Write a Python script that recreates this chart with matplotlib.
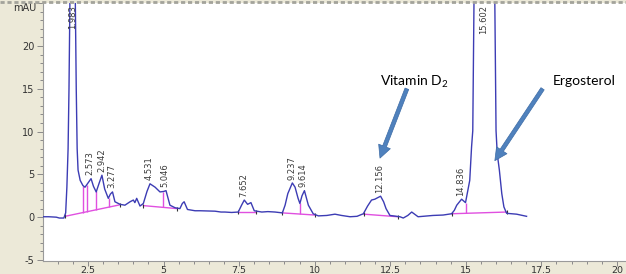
import numpy as np
import matplotlib
matplotlib.use('Agg')
import matplotlib.pyplot as plt
from matplotlib.lines import Line2D
from matplotlib.ticker import MultipleLocator

# chromatogram trace (min, mAU)
rt = [0.90, 1.20, 1.45, 1.55, 1.70, 1.76, 1.80, 1.84, 1.87, 1.90, 1.95, 2.00, 2.04,
      2.08, 2.11, 2.14, 2.17, 2.24, 2.33, 2.40, 2.50, 2.60, 2.68, 2.77, 2.87, 2.96,
      3.05, 3.17, 3.24, 3.31, 3.39, 3.56, 3.72, 3.89, 4.00, 4.05, 4.11, 4.22, 4.33,
      4.45, 4.55, 4.72, 4.88, 5.00, 5.08, 5.21, 5.38, 5.54, 5.62, 5.68, 5.79, 6.04,
      6.21, 6.70, 6.90, 7.03, 7.25, 7.47, 7.58, 7.67, 7.78, 7.89, 8.00, 8.25, 8.45,
      8.69, 8.93, 9.02, 9.11, 9.26, 9.35, 9.45, 9.51, 9.58, 9.66, 9.79, 9.95, 10.12,
      10.40, 10.67, 10.89, 11.17, 11.40, 11.61, 11.75, 11.88, 11.99, 12.07, 12.18,
      12.28, 12.36, 12.49, 12.82, 12.93, 13.08, 13.21, 13.42, 13.91, 14.25, 14.53,
      14.62, 14.70, 14.86, 14.99, 15.13, 15.19, 15.23, 15.27, 15.35, 15.60, 15.88,
      15.96, 16.00, 16.04, 16.11, 16.19, 16.26, 16.35, 16.68, 17.01]
mau = [0.05, 0.05, 0.0, -0.1, -0.1, 0.5, 3.5, 8.0, 15.0, 25.0, 50.0, 70.0, 50.0,
       25.0, 15.0, 8.0, 5.5, 4.3, 3.7, 3.5, 4.0, 4.5, 3.6, 2.95, 4.0, 4.9,
       3.3, 2.2, 2.7, 2.95, 1.8, 1.5, 1.4, 1.8, 2.0, 1.7, 2.2, 1.3, 1.6,
       3.0, 3.9, 3.5, 2.95, 3.0, 3.1, 1.4, 1.1, 1.0, 1.6, 1.8, 0.9, 0.75,
       0.75, 0.7, 0.6, 0.6, 0.55, 0.6, 1.4, 2.0, 1.5, 1.7, 0.75, 0.6, 0.65,
       0.6, 0.5, 1.4, 2.75, 4.0, 3.5, 2.2, 1.6, 2.5, 3.1, 1.4, 0.4, 0.15,
       0.2, 0.35, 0.2, 0.05, 0.1, 0.4, 1.3, 2.0, 2.1, 2.25, 2.45,
       1.8, 1.0, 0.2, 0.05, -0.1, 0.2, 0.6, 0.05, 0.2, 0.25, 0.4,
       0.8, 1.4, 2.1, 1.7, 4.3, 8.2, 10.1, 25.0, 50.0, 110.0, 50.0,
       25.0, 10.1, 7.4, 5.5, 2.75, 1.2, 0.45, 0.35, 0.1]

peak_labels = ['1.983', '2.573', '2.942', '3.277', '4.531', '5.046', '7.652',
               '9.237', '9.614', '12.156', '14.836', '15.602']
peak_height = [70, 4.5, 4.9, 2.95, 3.9, 3.1, 2.0, 4.0, 3.1, 2.45, 2.1, 110]

# integration baselines (start rt, start mAU, end rt, end mAU)
base_t0 = [1.74, 4.33, 7.47, 8.93, 11.63, 14.53]
base_y0 = [0.10, 1.35, 0.65, 0.50, 0.35, 0.40]
base_t1 = [3.56, 5.45, 8.05, 10.00, 12.75, 16.35]
base_y1 = [1.45, 1.00, 0.65, 0.25, 0.05, 0.60]
drop_rt = [2.34, 2.46, 2.78, 3.18, 4.98, 9.51, 14.99]

plt.rcParams['lines.scale_dashes'] = False
plt.rcParams['mathtext.fontset'] = 'custom'

fig = plt.figure(figsize=(6.26, 2.74), dpi=100, facecolor='#ece9d8')
ax = fig.add_axes([43 / 626, 13 / 274, 1 - 43 / 626, 258 / 274])
ax.set_facecolor('white')

pink = '#e050e0'
for t0, y0, t1, y1 in zip(base_t0, base_y0, base_t1, base_y1):
    ax.plot([t0, t1], [y0, y1], color=pink, lw=1.0, zorder=2)
    ax.plot([t0, t1], [y0, y1], ls='none', marker='|', ms=3, mew=0.8, color='#333333', zorder=3)
for t in drop_rt:
    for t0, y0, t1, y1 in zip(base_t0, base_y0, base_t1, base_y1):
        if t0 <= t <= t1:
            yb = np.interp(t, [t0, t1], [y0, y1])
    ax.vlines(t, yb, np.interp(t, rt, mau), color=pink, lw=1.0, zorder=2)

ax.plot(rt, mau, color='#3c3cb4', lw=1.0, zorder=4)

for lab, h in zip(peak_labels, peak_height):
    x = float(lab)
    if h > 25:
        ax.text(x, 24.8, lab, rotation=90, ha='center', va='top', fontsize=6, color='#3a3a3a', zorder=5)
    else:
        ax.text(x, h + 0.4, lab, rotation=90, ha='center', va='bottom', fontsize=6, color='#3a3a3a', zorder=5)

arrow = dict(arrowstyle='simple,head_length=0.9,head_width=0.9,tail_width=0.28',
             mutation_scale=10, fc='#4f81bd', ec='#3d6ca6', lw=0.5, shrinkA=0, shrinkB=0)
ax.annotate('', xy=(12.16, 6.9), xytext=(13.05, 15.0), arrowprops=arrow, zorder=6)
ax.annotate('', xy=(15.96, 6.6), xytext=(17.54, 15.0), arrowprops=arrow, zorder=6)
ax.text(12.16, 15.35, 'Vitamin D$_\\mathregular{2}$', fontsize=10, family='Lato', color='black', va='baseline')
ax.text(17.88, 15.45, 'Ergosterol', fontsize=10, family='Lato', color='black', va='baseline')

ax.set_xlim(1.01, 20.30)
ax.set_ylim(-5.12, 25.02)
for s in ['top', 'right']:
    ax.spines[s].set_visible(False)
for s in ['left', 'bottom']:
    ax.spines[s].set_color('#9a9a9a')
    ax.spines[s].set_linewidth(0.8)

ax.set_xticks(np.arange(2.5, 20.1, 2.5))
ax.set_xticklabels(['2.5', '5', '7.5', '10', '12.5', '15', '17.5', '20'])
ax.xaxis.set_minor_locator(MultipleLocator(0.5))
ax.set_yticks(range(-5, 26, 5))
ax.set_yticklabels(['-5', '0', '5', '10', '15', '20', ''])
ax.yaxis.set_minor_locator(MultipleLocator(1))
ax.tick_params(which='major', length=4, width=0.7, color='#8a8a8a', labelsize=7, labelcolor='#333333', pad=2)
ax.tick_params(axis='x', which='major', length=3.5, labelsize=6.8, pad=0)
ax.tick_params(which='minor', length=2, width=0.7, color='#8a8a8a')
ax.text(-0.012, 24.4, 'mAU', transform=ax.get_yaxis_transform(), ha='right', va='center', fontsize=7, color='#333333')

# dashed window border at the top
fig.add_artist(Line2D([0, 1], [1 - 1.5 / 274] * 2, transform=fig.transFigure,
                      color='#a3a39b', lw=2.0, dashes=(3, 2)))

fig.savefig('out.png', dpi=100, facecolor=fig.get_facecolor())
